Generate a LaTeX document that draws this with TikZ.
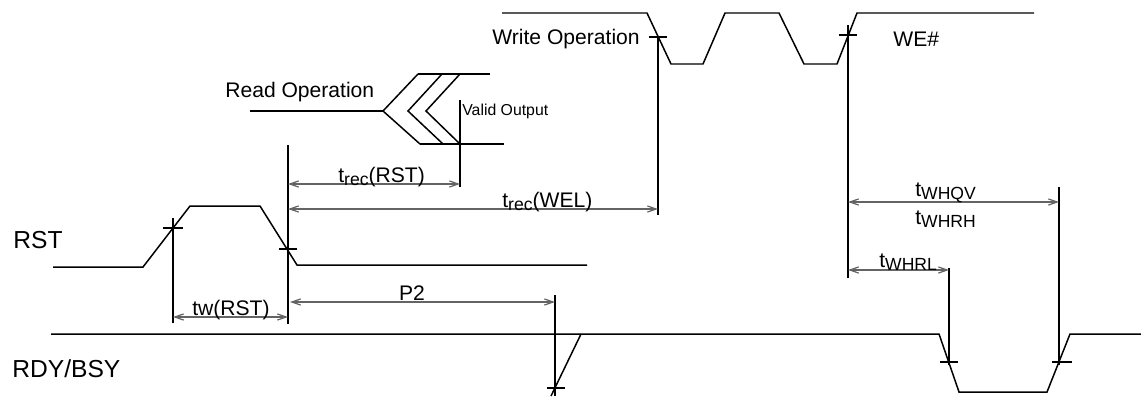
\documentclass[tikz,border=0pt]{standalone}
\usepackage{fontspec}
\setmainfont{Liberation Sans}
\usepackage{tikz}
\usetikzlibrary{arrows.meta,positioning,calc}
\definecolor{arrowgray}{RGB}{100,100,100}
\newcommand{\lsub}[1]{\raisebox{-2pt}{\fontsize{10}{12}\selectfont #1}}

\begin{document}
\begin{tikzpicture}[x=0.02cm, y=-0.02cm,
    sig/.style={line width=0.85pt},
    ext/.style={line width=0.6pt},
    dim/.style={<->, >={Straight Barb[length=5pt,width=3.5pt]}, line width=0.7pt, arrowgray},
    lbl/.style={inner sep=0pt, font=\fontsize{12}{14}\selectfont},
    big/.style={inner sep=0pt, font=\fontsize{14}{16}\selectfont}]
    \useasboundingbox (0,0) rectangle (1141,396);

    % WE# waveform
    \draw[sig] (502,13) -- (647,13) -- (671,64) -- (703,64) -- (725,13) -- (779,13)
        -- (804,64) -- (837,64) -- (857,13) -- (1034,13);
    \coordinate (weA) at (658,37);
    \coordinate (weB) at (848,35);
    \draw[ext] (weA) ++(-9,0) -- ++(18,0);
    \draw[ext] (weB) ++(-9,0) -- ++(18,0);
    \draw[ext] (weA) -- ++(0,178);
    \draw[ext] (weB) ++(0,-10) -- ++(0,253);
    \node[lbl, anchor=base east] (wrop) at (640,44) {Write Operation};
    \node[lbl, anchor=base west] (wesig) at (893,46) {WE\#};

    % read operation
    \draw[sig] (250,111) -- (383,111);
    \foreach \xa/\xb/\xc in {383/418/420, 408/442/443, 426/460/460}
        \draw[sig] (\xb,74) -- (\xa,111) -- (\xc,144);
    \draw[sig] (418,74) -- (490,74);
    \draw[sig] (420,144) -- (504,144);
    \coordinate (rdV) at (460,100);
    \draw[ext] (rdV) -- ++(0,87);
    \node[lbl, anchor=base west] (rdop) at (225,97) {Read Operation};
    \node[inner sep=0pt, font=\fontsize{9}{11}\selectfont, anchor=base west] (valid) at (462,115) {Valid Output};

    % RST waveform
    \draw[sig] (53,267) -- (143,267) -- (190,206) -- (260,206) -- (297,265) -- (587,265);
    \coordinate (rstA) at (173,228);
    \coordinate (rstB) at (288,249);
    \draw[ext] (rstA) ++(-10,0) -- ++(20,0);
    \draw[ext] (rstB) ++(-9,0) -- ++(18,0);
    \draw[ext] (rstA) ++(0,-10) -- ++(0,105);
    \draw[ext] (rstB) ++(0,-104) -- ++(0,179);
    \node[big, anchor=base west] (rstname) at (13,248) {RST};

    % trec(RST), trec(WEL), tw(RST)
    \coordinate (recL) at (288,184);
    \coordinate (recR) at (460,184);
    \draw[dim] (recL) -- (recR);
    \node[lbl, anchor=base west] (trecrst) at (338,182) {t\lsub{rec}(RST)};
    \coordinate (welL) at (288,209);
    \coordinate (welR) at (658,209);
    \draw[dim] (welL) -- (welR);
    \node[lbl, anchor=base west] (trecwel) at (502,207) {t\lsub{rec}(WEL)};
    \coordinate (twL) at (173,317);
    \coordinate (twR) at (288,317);
    \draw[dim] (twL) -- (twR);
    \node[lbl, anchor=base] (twrst) at (231,315) {tw(RST)};

    % RDY/BSY waveform
    \draw[sig] (51,334) -- (939,334) -- (959,392) -- (1047,392) -- (1070,334) -- (1141,334);
    \draw[sig] (581,334) -- (551,396);
    \coordinate (rbA) at (555,388);
    \coordinate (rbB) at (949,362);
    \coordinate (rbC) at (1059,362);
    \draw[ext] (rbA) ++(-8,0) -- ++(18,0);
    \draw[ext] (rbB) ++(-9,0) -- ++(18,0);
    \draw[ext] (rbC) ++(-7,0) -- ++(20,0);
    \draw[ext] (rbA) ++(0,-93) -- ++(0,101);
    \draw[ext] (rbB) ++(0,-94) -- ++(0,97);
    \draw[ext] (rbC) ++(0,-175) -- ++(0,178);
    \node[big, anchor=base west] (rbname) at (12,377) {RDY/BSY};

    % P2, tWHQV/tWHRH, tWHRL
    \coordinate (p2L) at (290,302);
    \coordinate (p2R) at (555,302);
    \draw[dim] (p2L) -- (p2R);
    \node[lbl, anchor=base] (ptwo) at (412,300) {P2};
    \coordinate (qvL) at (848,202);
    \coordinate (qvR) at (1059,202);
    \draw[dim] (qvL) -- (qvR);
    \node[lbl, anchor=base west] (twhqv) at (915,196) {t\lsub{WHQV}};
    \node[lbl, anchor=base west] (twhrh) at (915,224) {t\lsub{WHRH}};
    \coordinate (rlL) at (848,270);
    \coordinate (rlR) at (949,270);
    \draw[dim] (rlL) -- (rlR);
    \node[lbl, anchor=base west] (twhrl) at (879,267) {t\lsub{WHRL}};
\end{tikzpicture}
\end{document}
